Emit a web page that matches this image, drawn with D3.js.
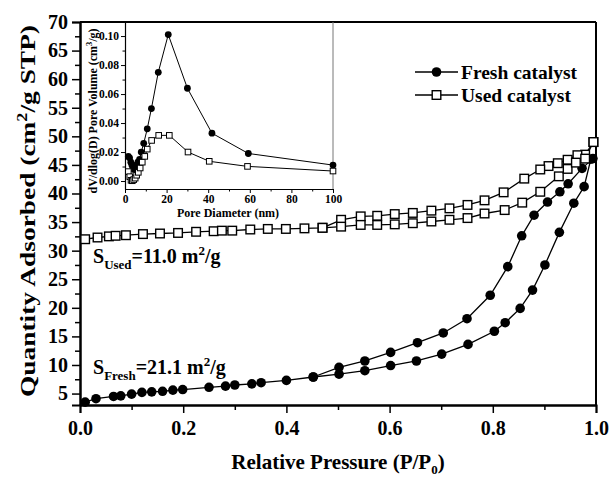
<!DOCTYPE html>
<html><head><meta charset="utf-8">
<script src="https://cdn.jsdelivr.net/npm/d3@7"></script>
<style>
body{margin:0;background:#fff;}
text{font-family:"Liberation Serif","Times New Roman",serif;font-weight:bold;fill:#000;}
</style></head>
<body><svg id="c" width="610" height="478"></svg>
<script>
// Main isotherm data
const freshAdsP = [0.01,0.031,0.065,0.079,0.1,0.12,0.139,0.16,0.18,0.199,0.25,0.282,0.3,0.333,0.351,0.4,0.452,0.502,0.552,0.602,0.652,0.701,0.752,0.803,0.824,0.853,0.877,0.901,0.929,0.957,0.977,0.99];
const freshAdsQ = [3.5,4.1,4.5,4.6,4.9,5.2,5.3,5.4,5.6,5.7,6.1,6.3,6.5,6.7,6.9,7.3,7.9,8.4,9.0,9.9,10.7,11.9,13.6,15.9,17.4,19.9,23.1,27.5,33.2,38.3,41.2,46.0];
const freshDesP = [0.994,0.973,0.946,0.93,0.906,0.88,0.856,0.829,0.795,0.75,0.704,0.654,0.602,0.552,0.502,0.452];
const freshDesQ = [46.1,44.4,41.7,40.3,38.5,36.2,32.6,27.2,22.2,18.1,15.6,13.9,12.2,10.7,9.6,7.9];
const usedAdsP = [0.01,0.034,0.056,0.069,0.089,0.122,0.155,0.19,0.225,0.259,0.275,0.295,0.33,0.364,0.399,0.435,0.47,0.506,0.544,0.576,0.61,0.645,0.681,0.716,0.751,0.784,0.823,0.857,0.892,0.928,0.945,0.961,0.979,0.995];
const usedAdsQ = [32.0,32.3,32.5,32.6,32.7,32.9,33.0,33.1,33.3,33.4,33.5,33.5,33.7,33.8,33.8,33.9,34.0,34.2,34.5,34.5,34.6,34.8,35.1,35.4,35.7,36.5,37.1,38.4,40.3,43.0,44.3,45.4,46.1,49.0];
const usedDesP = [0.995,0.979,0.964,0.945,0.926,0.908,0.892,0.861,0.821,0.784,0.751,0.716,0.681,0.645,0.61,0.576,0.544,0.506,0.47];
const usedDesQ = [49.0,46.8,46.7,45.9,45.3,44.8,44.2,42.6,40.2,38.8,38.0,37.4,37.0,36.6,36.4,36.1,36.0,35.4,34.0];
// Inset pore size distribution
const freshD = [1.6,2.2,2.8,3.3,3.8,4.3,4.9,5.5,6.2,7.0,7.8,9.0,10.7,12.7,16.0,20.8,30.0,41.8,59.3,100];
const freshV = [0.017,0.016,0.013,0.011,0.009,0.008,0.009,0.011,0.013,0.015,0.020,0.026,0.036,0.050,0.075,0.101,0.064,0.033,0.019,0.011];
const usedD = [1.6,2.3,2.9,3.5,4.2,4.9,5.6,6.4,7.3,8.3,9.5,10.7,12.8,16.2,21.3,30.3,40.5,58.9,100];
const usedV = [0.0065,0.003,0.0005,0.0002,0.001,0.002,0.004,0.006,0.009,0.013,0.017,0.022,0.028,0.0315,0.0315,0.020,0.0136,0.0101,0.0069];
// Ticks
const xTicks = [0,0.2,0.4,0.6,0.8,1.0];
const yTicks = [5,10,15,20,25,30,35,40,45,50,55,60,65,70];
const insetXTicks = [0,20,40,60,80,100];
const insetYTicks = [0,0.02,0.04,0.06,0.08,0.10];

const svg = d3.select("#c");
const L=80,R=596,T=22,B=405;
const x = d3.scaleLinear().domain([0,1]).range([L,R]);
const y = d3.scaleLinear().domain([3,70]).range([B,T]);

function zip(a,b){return a.map((v,i)=>[v,b[i]]);}

// frame
svg.append("line").attr("x1",L).attr("x2",R).attr("y1",T).attr("y2",T).attr("stroke","#000").attr("stroke-width",2);
svg.append("line").attr("x1",R).attr("x2",R).attr("y1",T).attr("y2",B).attr("stroke","#000").attr("stroke-width",2);

// axes
const xAx = svg.append("g").attr("transform",`translate(0,${B})`)
  .call(d3.axisBottom(x).tickValues(xTicks).tickFormat(d3.format(".1f")).tickSize(8).tickPadding(8));
svg.append("g").attr("transform",`translate(0,${B})`)
  .call(d3.axisBottom(x).tickValues(d3.range(0.1,1,0.2)).tickFormat("").tickSize(5).tickSizeOuter(0));
const yAx = svg.append("g").attr("transform",`translate(${L},0)`)
  .call(d3.axisLeft(y).tickValues(yTicks).tickSize(8).tickPadding(4));
svg.append("g").attr("transform",`translate(${L},0)`)
  .call(d3.axisLeft(y).tickValues(d3.range(7.5,70,5)).tickFormat("").tickSize(5).tickSizeOuter(0));
svg.selectAll(".domain").attr("stroke-width",2);
svg.selectAll(".tick line").attr("stroke-width",1.5);
xAx.selectAll("text").attr("font-size",20).attr("font-family","Liberation Serif").attr("font-weight","bold");
yAx.selectAll("text").attr("font-size",20).attr("font-family","Liberation Serif").attr("font-weight","bold");

// axis titles
const xt = svg.append("text").attr("x",338).attr("y",469).attr("text-anchor","middle").attr("font-size",21);
xt.append("tspan").text("Relative Pressure (P/P");
xt.append("tspan").attr("font-size",13).attr("dy",5).text("0");
xt.append("tspan").attr("dy",-5).text(")");
const yt = svg.append("text").attr("transform","translate(35,211) rotate(-90)").attr("text-anchor","middle").attr("font-size",21)
  .attr("textLength",372).attr("lengthAdjust","spacingAndGlyphs");
yt.append("tspan").text("Quantity Adsorbed (cm");
yt.append("tspan").attr("font-size",14).attr("dy",-8).text("2");
yt.append("tspan").attr("dy",8).text("/g STP)");

// main series
const line = d3.line().x(d=>x(d[0])).y(d=>y(d[1]));
const series = [
  {d:zip(freshDesP,freshDesQ),t:"c"},{d:zip(freshAdsP,freshAdsQ),t:"c"},
  {d:zip(usedDesP,usedDesQ),t:"s"},{d:zip(usedAdsP,usedAdsQ),t:"s"}
];
series.forEach(s=>{
  svg.append("path").attr("d",line(s.d)).attr("fill","none").attr("stroke","#000").attr("stroke-width",1.3);
});
series.forEach(s=>{
  if(s.t==="c"){
    svg.append("g").selectAll("circle").data(s.d).join("circle")
      .attr("cx",d=>x(d[0])).attr("cy",d=>y(d[1])).attr("r",4.8).attr("fill","#000");
  } else {
    svg.append("g").selectAll("rect").data(s.d).join("rect")
      .attr("x",d=>x(d[0])-4.3).attr("y",d=>y(d[1])-4.3).attr("width",8.6).attr("height",8.6)
      .attr("fill","#fff").attr("stroke","#000").attr("stroke-width",1.4);
  }
});

// legend
const lg = svg.append("g");
[["Fresh catalyst","c",72],["Used catalyst","s",95]].forEach(([lab,t,ly])=>{
  lg.append("line").attr("x1",415).attr("x2",458).attr("y1",ly).attr("y2",ly).attr("stroke","#000").attr("stroke-width",1.3);
  if(t==="c") lg.append("circle").attr("cx",436.5).attr("cy",ly).attr("r",4.8).attr("fill","#000");
  else lg.append("rect").attr("x",432.2).attr("y",ly-4.3).attr("width",8.6).attr("height",8.6).attr("fill","#fff").attr("stroke","#000").attr("stroke-width",1.4);
  lg.append("text").attr("x",461).attr("y",ly+6.5).attr("font-size",19.5).text(lab);
});

// annotations
function annot(ax,ay,sub,val){
  const t = svg.append("text").attr("x",ax).attr("y",ay).attr("font-size",20);
  t.append("tspan").text("S");
  t.append("tspan").attr("font-size",13).attr("dy",6).text(sub);
  t.append("tspan").attr("dy",-6).text("="+val+" m");
  t.append("tspan").attr("font-size",13).attr("dy",-8).text("2");
  t.append("tspan").attr("dy",8).text("/g");
}
annot(93,263,"Used","11.0");
annot(93,374,"Fresh","21.1");

// inset
const iL=125,iR=333,iT=22,iB=189;
const ix = d3.scaleLinear().domain([0,100]).range([iL,iR]);
const iy = d3.scaleLinear().domain([-0.0055,0.1097]).range([iB,iT]);
svg.append("line").attr("x1",iR).attr("x2",iR).attr("y1",iT).attr("y2",iB).attr("stroke","#777").attr("stroke-width",1);
const ixAx = svg.append("g").attr("transform",`translate(0,${iB})`)
  .call(d3.axisBottom(ix).tickValues(insetXTicks).tickSize(4).tickPadding(2).tickSizeOuter(0));
svg.append("g").attr("transform",`translate(0,${iB})`)
  .call(d3.axisBottom(ix).tickValues(d3.range(10,100,20)).tickFormat("").tickSize(2.5).tickSizeOuter(0));
const iyAx = svg.append("g").attr("transform",`translate(${iL},0)`)
  .call(d3.axisLeft(iy).tickValues(insetYTicks).tickFormat(d3.format(".2f")).tickSize(4).tickPadding(2).tickSizeOuter(0));
svg.append("g").attr("transform",`translate(${iL},0)`)
  .call(d3.axisLeft(iy).tickValues(d3.range(0.01,0.1,0.02)).tickFormat("").tickSize(2.5).tickSizeOuter(0));
[ixAx,iyAx].forEach(g=>{
  g.select(".domain").attr("stroke-width",1.2);
  g.selectAll("text").attr("font-size",11.5).attr("font-family","Liberation Serif").attr("font-weight","bold");
});
svg.append("text").attr("x",228).attr("y",217).attr("text-anchor","middle").attr("font-size",12).text("Pore Diameter (nm)");
const iyt = svg.append("text").attr("transform","translate(97,111) rotate(-90)").attr("text-anchor","middle").attr("font-size",11.5)
  .attr("textLength",165).attr("lengthAdjust","spacingAndGlyphs");
iyt.append("tspan").text("dV/dlog(D) Pore Volume (cm");
iyt.append("tspan").attr("font-size",8).attr("dy",-5).text("3");
iyt.append("tspan").attr("dy",5).text("/g)");

const iline = d3.line().x(d=>ix(d[0])).y(d=>iy(d[1]));
const fI = zip(freshD,freshV), uI = zip(usedD,usedV);
svg.append("path").attr("d",iline(fI)).attr("fill","none").attr("stroke","#000").attr("stroke-width",1);
svg.append("path").attr("d",iline(uI)).attr("fill","none").attr("stroke","#000").attr("stroke-width",1);
svg.append("g").selectAll("circle").data(fI).join("circle")
  .attr("cx",d=>ix(d[0])).attr("cy",d=>iy(d[1])).attr("r",3.4).attr("fill","#000");
svg.append("g").selectAll("rect").data(uI).join("rect")
  .attr("x",d=>ix(d[0])-2.8).attr("y",d=>iy(d[1])-2.8).attr("width",5.6).attr("height",5.6)
  .attr("fill","#fff").attr("stroke","#000").attr("stroke-width",1);
</script></body></html>
